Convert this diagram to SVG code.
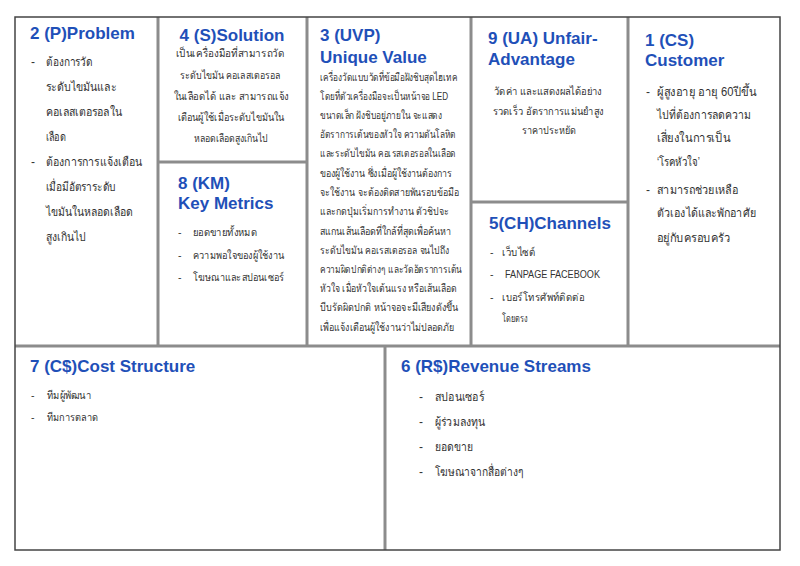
<svg xmlns="http://www.w3.org/2000/svg" width="800" height="566" viewBox="0 0 800 566">
<style>
.t{font-family:"Liberation Sans",Arial,sans-serif;font-weight:bold;font-size:17px;fill:#1f50b8}
.b{font-family:"Liberation Sans","Noto Sans",sans-serif;font-size:12px;fill:#333}
.s{font-family:"Liberation Sans","Noto Sans",sans-serif;font-size:10.5px;fill:#333}
.c{text-anchor:middle}
.ln{stroke:#8c8c8c;stroke-width:3;fill:none}
</style>
<rect x="0" y="0" width="800" height="566" fill="#fff"/>
<g id="connectors">
<line class="ln" x1="158" y1="17" x2="158" y2="346"/>
<line class="ln" x1="307" y1="17" x2="307" y2="346"/>
<line class="ln" x1="471" y1="17" x2="471" y2="346"/>
<line class="ln" x1="628" y1="17" x2="628" y2="346"/>
<line class="ln" x1="158" y1="162" x2="307" y2="162"/>
<line class="ln" x1="471" y1="202" x2="628" y2="202"/>
<line class="ln" x1="15" y1="346" x2="780" y2="346"/>
<line class="ln" x1="385" y1="346" x2="385" y2="550"/>
<rect x="15" y="17" width="765" height="533" fill="none" stroke="#444" stroke-width="1.5"/>
</g>
<g id="problem">
<text class="t" x="30" y="39">2 (P)Problem</text>
<text class="b" x="31" y="66">-</text>
<text class="b" x="46" y="66" textLength="47" lengthAdjust="spacingAndGlyphs">ต้องการวัด</text>
<text class="b" x="46" y="91" textLength="70" lengthAdjust="spacingAndGlyphs">ระดับไขมันและ</text>
<text class="b" x="46" y="116" textLength="76" lengthAdjust="spacingAndGlyphs">คอเลสเตอรอลใน</text>
<text class="b" x="46" y="141" textLength="20" lengthAdjust="spacingAndGlyphs">เลือด</text>
<text class="b" x="31" y="166">-</text>
<text class="b" x="46" y="166" textLength="96" lengthAdjust="spacingAndGlyphs">ต้องการการแจ้งเตือน</text>
<text class="b" x="46" y="191" textLength="70" lengthAdjust="spacingAndGlyphs">เมื่อมีอัตราระดับ</text>
<text class="b" x="46" y="216" textLength="87" lengthAdjust="spacingAndGlyphs">ไขมันในหลอดเลือด</text>
<text class="b" x="46" y="241" textLength="40" lengthAdjust="spacingAndGlyphs">สูงเกินไป</text>
</g>
<g id="solution">
<text class="t c" x="232" y="41">4 (S)Solution</text>
<text class="s c" x="230" y="57" textLength="109" lengthAdjust="spacingAndGlyphs">เป็นเครื่องมือที่สามารถวัด</text>
<text class="s c" x="230" y="79" textLength="100" lengthAdjust="spacingAndGlyphs">ระดับไขมัน คอเลสเตอรอล</text>
<text class="s c" x="231" y="100" textLength="115" lengthAdjust="spacingAndGlyphs">ในเลือดได้ และ สามารถแจ้ง</text>
<text class="s c" x="231" y="121" textLength="107" lengthAdjust="spacingAndGlyphs">เตือนผู้ใช้เมื่อระดับไขมันใน</text>
<text class="s c" x="231" y="142" textLength="74" lengthAdjust="spacingAndGlyphs">หลอดเลือดสูงเกินไป</text>
</g>
<g id="metrics">
<text class="t" x="178" y="189">8 (KM)</text>
<text class="t" x="178" y="209">Key Metrics</text>
<text class="s" x="178" y="236">-</text>
<text class="s" x="193" y="236" textLength="64" lengthAdjust="spacingAndGlyphs">ยอดขายทั้งหมด</text>
<text class="s" x="178" y="259">-</text>
<text class="s" x="193" y="259" textLength="91" lengthAdjust="spacingAndGlyphs">ความพอใจของผู้ใช้งาน</text>
<text class="s" x="178" y="281">-</text>
<text class="s" x="193" y="281" textLength="91" lengthAdjust="spacingAndGlyphs">โฆษณาและสปอนเซอร์</text>
</g>
<g id="uvp">
<text class="t" x="320" y="41">3 (UVP)</text>
<text class="t" x="320" y="63">Unique Value</text>
<text class="s" x="320" y="81" textLength="137" lengthAdjust="spacingAndGlyphs">เครื่องวัดแบบวัดที่ข้อมือฝังชิบสุดไฮเทค</text>
<text class="s" x="320" y="100" textLength="128" lengthAdjust="spacingAndGlyphs">โดยที่ตัวเครื่องมือจะเป็นหน้าจอ LED</text>
<text class="s" x="320" y="119" textLength="122" lengthAdjust="spacingAndGlyphs">ขนาดเล็ก ฝังชิบอยู่ภายใน จะแสดง</text>
<text class="s" x="320" y="138" textLength="136" lengthAdjust="spacingAndGlyphs">อัตราการเต้นของหัวใจ ความดันโลหิต</text>
<text class="s" x="320" y="157" textLength="136" lengthAdjust="spacingAndGlyphs">และระดับไขมัน คอเรสเตอรอลในเลือด</text>
<text class="s" x="320" y="177" textLength="132" lengthAdjust="spacingAndGlyphs">ของผู้ใช้งาน ซึ่งเมื่อผู้ใช้งานต้องการ</text>
<text class="s" x="320" y="196" textLength="139" lengthAdjust="spacingAndGlyphs">จะใช้งาน จะต้องติดสายพันรอบข้อมือ</text>
<text class="s" x="320" y="215" textLength="129" lengthAdjust="spacingAndGlyphs">และกดปุ่มเริ่มการทำงาน ตัวชิปจะ</text>
<text class="s" x="320" y="235" textLength="131" lengthAdjust="spacingAndGlyphs">สแกนเส้นเลือดที่ใกล้ที่สุดเพื่อค้นหา</text>
<text class="s" x="320" y="254" textLength="129" lengthAdjust="spacingAndGlyphs">ระดับไขมัน คอเรสเตอรอล จนไปถึง</text>
<text class="s" x="320" y="273" textLength="142" lengthAdjust="spacingAndGlyphs">ความผิดปกติต่างๆ และวัดอัตราการเต้น</text>
<text class="s" x="320" y="292" textLength="137" lengthAdjust="spacingAndGlyphs">หัวใจ เมื่อหัวใจเต้นแรง หรือเส้นเลือด</text>
<text class="s" x="320" y="311" textLength="138" lengthAdjust="spacingAndGlyphs">บีบรัดผิดปกติ หน้าจอจะมีเสียงดังขึ้น</text>
<text class="s" x="320" y="331" textLength="134" lengthAdjust="spacingAndGlyphs">เพื่อแจ้งเตือนผู้ใช้งานว่าไม่ปลอดภัย</text>
</g>
<g id="unfair">
<text class="t" x="488" y="44">9 (UA) Unfair-</text>
<text class="t" x="488" y="65">Advantage</text>
<text class="s c" x="548" y="95" textLength="108" lengthAdjust="spacingAndGlyphs">วัดค่า และแสดงผลได้อย่าง</text>
<text class="s c" x="548" y="115" textLength="111" lengthAdjust="spacingAndGlyphs">รวดเร็ว อัตราการแม่นยำสูง</text>
<text class="s c" x="549" y="134" textLength="55" lengthAdjust="spacingAndGlyphs">ราคาประหยัด</text>
</g>
<g id="channels">
<text class="t" x="489" y="229">5(CH)Channels</text>
<text class="s" x="490" y="256">-</text>
<text class="s" x="502" y="256" textLength="33" lengthAdjust="spacingAndGlyphs">เว็บไซต์</text>
<text class="s" x="490" y="278">-</text>
<text class="s" x="505" y="278" textLength="95" lengthAdjust="spacingAndGlyphs">FANPAGE FACEBOOK</text>
<text class="s" x="490" y="301">-</text>
<text class="s" x="502" y="301" textLength="82" lengthAdjust="spacingAndGlyphs">เบอร์โทรศัพท์ติดต่อ</text>
<text class="s" x="502" y="322" textLength="26" lengthAdjust="spacingAndGlyphs">โดยตรง</text>
</g>
<g id="customer">
<text class="t" x="645" y="46">1 (CS)</text>
<text class="t" x="645" y="66">Customer</text>
<text class="b" x="646" y="96">-</text>
<text class="b" x="657" y="96" textLength="99" lengthAdjust="spacingAndGlyphs">ผู้สูงอายุ อายุ 60ปีขึ้น</text>
<text class="b" x="657" y="119" textLength="94" lengthAdjust="spacingAndGlyphs">ไปที่ต้องการลดความ</text>
<text class="b" x="657" y="142" textLength="73" lengthAdjust="spacingAndGlyphs">เสี่ยงในการเป็น</text>
<text class="b" x="657" y="166" textLength="43" lengthAdjust="spacingAndGlyphs">‘โรคหัวใจ’</text>
<text class="b" x="646" y="194">-</text>
<text class="b" x="657" y="194" textLength="81" lengthAdjust="spacingAndGlyphs">สามารถช่วยเหลือ</text>
<text class="b" x="657" y="217" textLength="99" lengthAdjust="spacingAndGlyphs">ตัวเองได้และพักอาศัย</text>
<text class="b" x="657" y="242" textLength="73" lengthAdjust="spacingAndGlyphs">อยู่กับครอบครัว</text>
</g>
<g id="cost">
<text class="t" x="30" y="372">7 (C$)Cost Structure</text>
<text class="s" x="31" y="399">-</text>
<text class="s" x="47" y="399" textLength="44" lengthAdjust="spacingAndGlyphs">ทีมผู้พัฒนา</text>
<text class="s" x="31" y="421">-</text>
<text class="s" x="47" y="421" textLength="51" lengthAdjust="spacingAndGlyphs">ทีมการตลาด</text>
</g>
<g id="revenue">
<text class="t" x="401" y="372">6 (R$)Revenue Streams</text>
<text class="b" x="419" y="401">-</text>
<text class="b" x="435" y="401" textLength="49" lengthAdjust="spacingAndGlyphs">สปอนเซอร์</text>
<text class="b" x="419" y="426">-</text>
<text class="b" x="435" y="426" textLength="50" lengthAdjust="spacingAndGlyphs">ผู้ร่วมลงทุน</text>
<text class="b" x="419" y="451">-</text>
<text class="b" x="435" y="451" textLength="38" lengthAdjust="spacingAndGlyphs">ยอดขาย</text>
<text class="b" x="419" y="476">-</text>
<text class="b" x="435" y="476" textLength="88" lengthAdjust="spacingAndGlyphs">โฆษณาจากสื่อต่างๆ</text>
</g>
</svg>
